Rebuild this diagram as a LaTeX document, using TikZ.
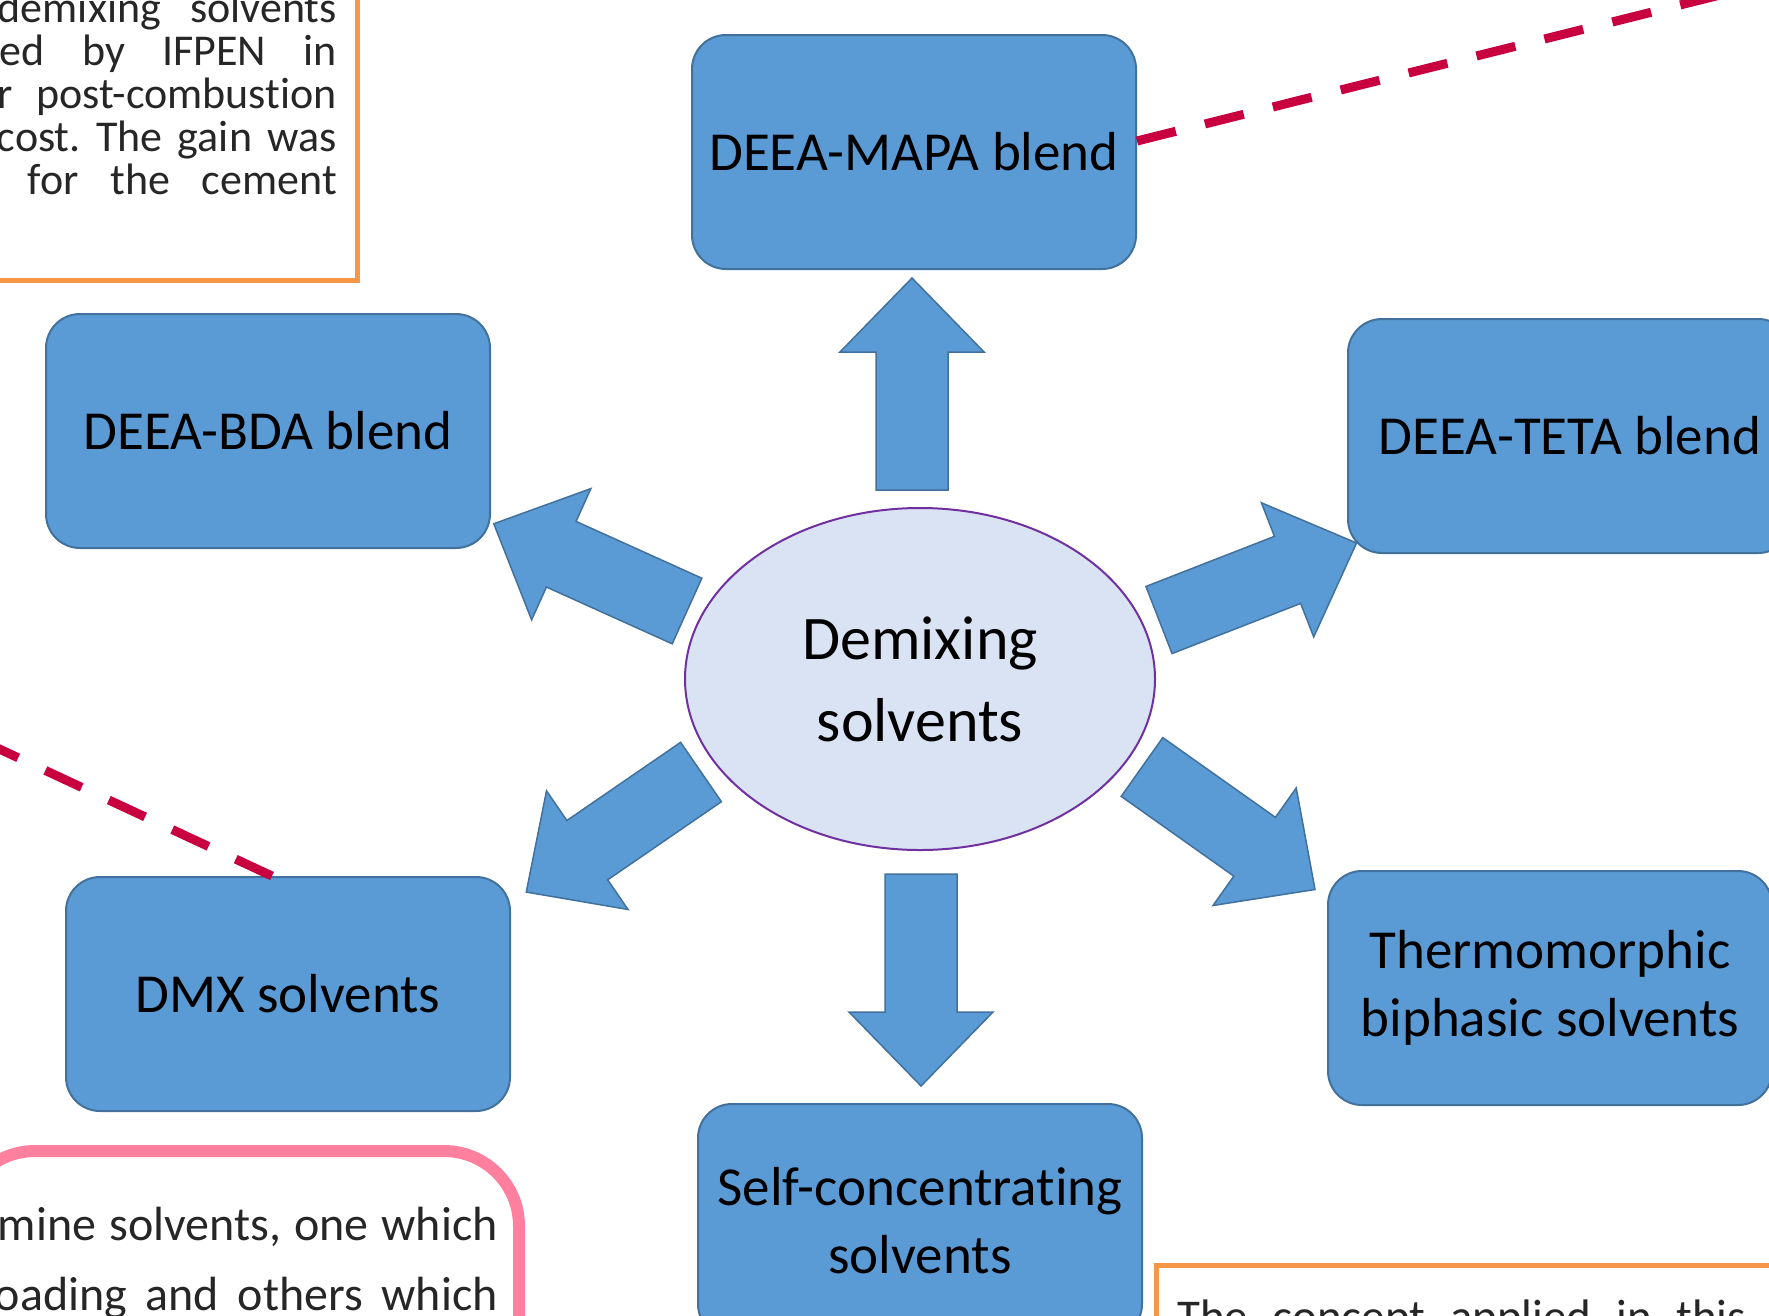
\documentclass[tikz,border=0pt]{standalone}
\usepackage{fontspec}
\setmainfont{Carlito}[Ligatures=NoCommon]
\usetikzlibrary{shapes.geometric}
\definecolor{boxblue}{HTML}{5B9BD5}
\definecolor{boxedge}{HTML}{41719C}
\definecolor{hubfill}{HTML}{DAE3F3}
\definecolor{hubedge}{HTML}{7030A0}
\definecolor{leadred}{HTML}{C80040}
\definecolor{frameorange}{HTML}{F79646}
\definecolor{framepink}{HTML}{FF7F9F}
\begin{document}
\begin{tikzpicture}[x=1pt, y=-1pt,
  solvbox/.style={rectangle, rounded corners=34pt, draw=boxedge, line width=2pt, fill=boxblue,
    minimum width=444pt, minimum height=234pt, align=center, text=black,
    font=\fontsize{55}{68}\selectfont},
  hub/.style={ellipse, draw=hubedge, line width=2pt, fill=hubfill, minimum width=470pt,
    minimum height=342pt, inner sep=0pt, align=center, font=\fontsize{62}{82}\selectfont},
  leader/.style={draw=leadred, line width=9pt, dash pattern=on 40pt off 30pt},
  sidetext/.style={inner sep=0pt, text=black!85},
  blockarrow/.pic={
    \draw[fill=boxblue, draw=boxedge, line width=1.5pt]
      (0,-36) -- (138,-36) -- (138,-72) -- (212,0) -- (138,72) -- (138,36) -- (0,36) -- cycle;
  }]
\useasboundingbox (0,0) rectangle (1769,1315);

\draw[frameorange, line width=5pt] (-20,-20) rectangle (357,280);
\node[sidetext, anchor=base east, font=\fontsize{44}{43}\selectfont] (tl1) at (337,22) {\hbox to 339pt{demixing\hfill solvents}};
\node[sidetext, anchor=base east, font=\fontsize{44}{43}\selectfont] (tl2) at (337,65) {\hbox to 337pt{ed\hfill by\hfill IFPEN\hfill in}};
\node[sidetext, anchor=base east, font=\fontsize{44}{43}\selectfont] (tl3) at (337,108) {\hbox to 339pt{r\hfill post-combustion}};
\node[sidetext, anchor=base east, font=\fontsize{44}{43}\selectfont] (tl4) at (337,151) {\hbox to 340pt{cost.\hfill The\hfill gain\hfill was}};
\node[sidetext, anchor=base east, font=\fontsize{44}{43}\selectfont] (tl5) at (337,194) {\hbox to 309pt{for\hfill the\hfill cement}};

\draw[framepink, line width=12pt, rounded corners=75pt] (-40,1151) rectangle (519,1420);
\node[sidetext, anchor=base east, font=\fontsize{48}{70}\selectfont] (pk1) at (498,1240) {\hbox to 500pt{mine\hfill solvents,\hfill one\hfill which}};
\node[sidetext, anchor=base east, font=\fontsize{48}{70}\selectfont] (pk2) at (498,1310) {\hbox to 503pt{oading\hfill and\hfill others\hfill which}};

\draw[frameorange, line width=5pt] (1156,1265) rectangle (1800,1420);
\node[sidetext, anchor=base west, font=\fontsize{47}{50}\selectfont] (br1) at (1177,1332) {\hbox to 569pt{The\hfill concept\hfill applied\hfill in\hfill this}};

\pic[rotate=90] at (912,490) {blockarrow};
\pic[rotate=-90] at (921,874) {blockarrow};
\pic[rotate=155.7] at (687,611) {blockarrow};
\pic[rotate=21.3] at (1159,620) {blockarrow};
\pic[rotate=214.5] at (701,772) {blockarrow};
\pic[rotate=-35.3] at (1142,767) {blockarrow};

\node[hub] (demix) at (920,679) {Demixing\\solvents};
\node[solvbox] (mapa) at (914,152) {DEEA-MAPA blend};
\node[solvbox] (bda) at (268,431) {DEEA-BDA blend};
\node[solvbox] (teta) at (1570,436) {DEEA-TETA blend};
\node[solvbox] (dmx) at (288,994) {DMX solvents};
\node[solvbox] (thermo) at (1550,988) {Thermomorphic\\biphasic solvents};
\node[solvbox] (selfc) at (920,1221) {Self-concentrating\\solvents};

\coordinate (farNE) at (1780,-20);
\coordinate (farW) at (-20,740);
\draw[leader] ([yshift=11pt]mapa.east) -- (farNE);
\draw[leader] ([xshift=-16pt]dmx.north) -- (farW);

\end{tikzpicture}
\end{document}
